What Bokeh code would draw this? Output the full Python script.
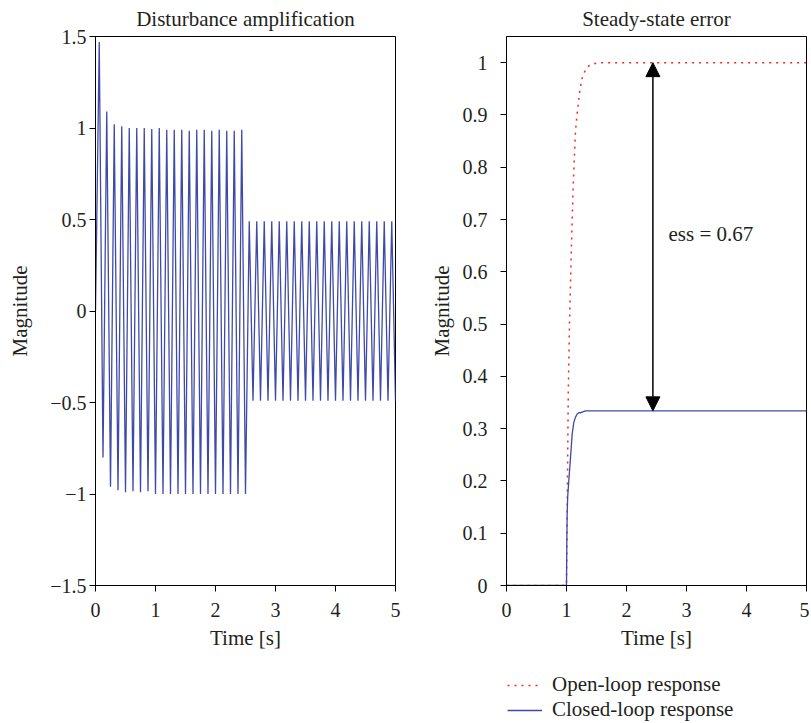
from bokeh.plotting import figure
from bokeh.layouts import row, column
from bokeh.models import Arrow, NormalHead, Label, Legend, LegendItem, FixedTicker
from bokeh.embed import file_html
from bokeh.resources import INLINE

# ---------------- data ----------------
dist_t = [0, 0.0625, 0.125, 0.1875, 0.25, 0.3125, 0.375, 0.4375, 0.5, 0.5625,
          0.625, 0.6875, 0.75, 0.8125, 0.875, 0.9375, 1.0, 1.0625, 1.125, 1.1875,
          1.25, 1.3125, 1.375, 1.4375, 1.5, 1.5625, 1.625, 1.6875, 1.75, 1.8125,
          1.875, 1.9375, 2.0, 2.0625, 2.125, 2.1875, 2.25, 2.3125, 2.375, 2.4375,
          2.5, 2.5625, 2.625, 2.6875, 2.75, 2.8125, 2.875, 2.9375, 3.0, 3.0625,
          3.125, 3.1875, 3.25, 3.3125, 3.375, 3.4375, 3.5, 3.5625, 3.625, 3.6875,
          3.75, 3.8125, 3.875, 3.9375, 4.0, 4.0625, 4.125, 4.1875, 4.25, 4.3125,
          4.375, 4.4375, 4.5, 4.5625, 4.625, 4.6875, 4.75, 4.8125, 4.875, 4.9375, 5.0]
dist_y = [0.0, 1.47, -0.80, 1.09, -0.96, 1.02, -0.98, 1.01, -0.99, 1.0,
          -0.985, 1.0, -0.99, 1.0, -0.985, 0.995, -1.0, 1.0, -1.0, 0.99,
          -1.0, 0.99, -1.0, 0.99, -1.0, 0.985, -1.0, 0.99, -1.0, 0.99,
          -1.0, 0.985, -1.0, 0.99, -1.0, 0.985, -1.0, 0.985, -1.0, 0.99,
          -1.0, 0.49, -0.49, 0.49, -0.49, 0.49, -0.49, 0.49, -0.49, 0.49,
          -0.49, 0.49, -0.49, 0.49, -0.49, 0.49, -0.49, 0.49, -0.49, 0.49,
          -0.49, 0.49, -0.49, 0.49, -0.49, 0.49, -0.49, 0.49, -0.49, 0.49,
          -0.49, 0.49, -0.49, 0.49, -0.49, 0.49, -0.49, 0.49, -0.49, 0.49, -0.49]

open_t = [0, 1.0, 1.01, 1.02, 1.03, 1.05, 1.08, 1.11, 1.15, 1.18, 1.22, 1.26,
          1.30, 1.35, 1.42, 1.5, 1.6, 5.0]
open_y = [0, 0, 0.13, 0.25, 0.37, 0.5, 0.64, 0.76, 0.87, 0.905, 0.945, 0.97,
          0.982, 0.992, 0.997, 0.999, 1.0, 1.0]

closed_t = [0, 1.0, 1.005, 1.011, 1.02, 1.038, 1.067, 1.095, 1.122, 1.15, 1.178,
            1.21, 1.233, 1.27, 1.32, 5.0]
closed_y = [0, 0, 0.08, 0.137, 0.17, 0.2, 0.245, 0.29, 0.312, 0.322, 0.328,
            0.331, 0.330, 0.332, 0.334, 0.334]

ess_x = 2.44
ess_low = 0.334
ess_high = 1.0
ess_label = "ess = 0.67"

titles = ["Disturbance amplification", "Steady-state error"]
legend_labels = ["Open-loop response", "Closed-loop response"]

left_yticks = [-1.5, -1, -0.5, 0, 0.5, 1, 1.5]
left_ylabels = ["\u22121.5", "\u22121", "\u22120.5", "0", "0.5", "1", "1.5"]
right_yticks = [0, 0.1, 0.2, 0.3, 0.4, 0.5, 0.6, 0.7, 0.8, 0.9, 1.0]
right_ylabels = ["0", "0.1", "0.2", "0.3", "0.4", "0.5", "0.6", "0.7", "0.8", "0.9", "1"]
xticks = [0, 1, 2, 3, 4, 5]

FONT = "Liberation Serif"
FS = "20px"
FSL = "21px"
TXT = "#231f20"
BLUE = "#3f4aa8"
RED = "#ee2a24"
OPEN_DASH = "2 5"


def style(p, ylab_standoff, label_standoff):
    p.grid.visible = False
    p.outline_line_color = "black"
    p.outline_line_width = 1
    p.title.align = "center"
    p.title.vertical_align = "top"
    p.title.text_font = FONT
    p.title.text_font_size = FSL
    p.title.text_font_style = "normal"
    p.title.text_color = TXT
    p.title.standoff = 8
    for ax in (p.xaxis[0], p.yaxis[0]):
        ax.axis_line_color = "black"
        ax.major_tick_line_color = "black"
        ax.major_tick_in = 0
        ax.major_tick_out = 6
        ax.minor_tick_line_color = None
        ax.major_label_text_font = FONT
        ax.major_label_text_font_size = FS
        ax.major_label_text_color = TXT
        ax.axis_label_text_font = FONT
        ax.axis_label_text_font_size = FSL
        ax.axis_label_text_font_style = "normal"
        ax.axis_label_text_color = TXT
    p.yaxis[0].major_label_standoff = label_standoff
    p.yaxis[0].axis_label_standoff = ylab_standoff
    p.xaxis[0].major_label_standoff = 11
    p.xaxis[0].axis_label_standoff = 6
    p.xaxis[0].ticker = FixedTicker(ticks=xticks)


# ---------------- left panel ----------------
p1 = figure(frame_width=300, frame_height=549, x_range=(0, 5), y_range=(-1.5, 1.5),
            title=titles[0], output_backend="svg",
            toolbar_location=None, min_border_left=95, min_border_right=25,
            min_border_top=36, min_border_bottom=80)
p1.line(dist_t, dist_y, line_color=BLUE, line_width=1.3)
style(p1, 15, 3)
p1.yaxis[0].ticker = FixedTicker(ticks=left_yticks)
p1.yaxis[0].major_label_overrides = dict(zip(left_yticks, left_ylabels))
p1.xaxis[0].axis_label = "Time [s]"
p1.yaxis[0].axis_label = "Magnitude"

# ---------------- right panel ----------------
p2 = figure(frame_width=300, frame_height=549, x_range=(0, 5), y_range=(0, 1.05),
            title=titles[1], output_backend="svg",
            toolbar_location=None, min_border_left=86, min_border_right=3,
            min_border_top=36, min_border_bottom=80)
p2.line(open_t, open_y, line_color=RED, line_width=1.5, line_dash=OPEN_DASH)
p2.line(closed_t, closed_y, line_color=BLUE, line_width=1.3)
style(p2, 6, 13)
p2.yaxis[0].ticker = FixedTicker(ticks=right_yticks)
p2.yaxis[0].major_label_overrides = dict(zip(right_yticks, right_ylabels))
p2.xaxis[0].axis_label = "Time [s]"
p2.yaxis[0].axis_label = "Magnitude"

p2.add_layout(Arrow(x_start=ess_x, y_start=ess_low, x_end=ess_x, y_end=ess_high,
                    line_color="black", line_width=1.5,
                    start=NormalHead(size=14, fill_color="black", line_color="black"),
                    end=NormalHead(size=14, fill_color="black", line_color="black")))
p2.add_layout(Label(x=2.7, y=0.673, text=ess_label, text_font=FONT,
                    text_font_size=FSL, text_color=TXT, text_baseline="middle"))

# ---------------- legend strip below the right panel ----------------
pl = figure(frame_width=300, frame_height=57, x_range=(0, 1), y_range=(0, 1),
            output_backend="svg", toolbar_location=None,
            x_axis_location=None, y_axis_location=None,
            min_border_left=506, min_border_right=0, min_border_top=0,
            min_border_bottom=0)
pl.outline_line_color = None
pl.grid.visible = False
nan = float("nan")
lo = pl.line([nan], [nan], line_color=RED, line_width=1.5, line_dash=OPEN_DASH)
lc = pl.line([nan], [nan], line_color=BLUE, line_width=1.3)
legend = Legend(items=[LegendItem(label=legend_labels[0], renderers=[lo]),
                       LegendItem(label=legend_labels[1], renderers=[lc])],
                location=(1, 0), orientation="vertical",
                border_line_alpha=0, background_fill_alpha=0,
                label_text_font=FONT, label_text_font_size=FSL, label_text_color=TXT,
                glyph_width=35, label_standoff=10, spacing=0, padding=0, margin=0)
pl.add_layout(legend, "center")

layout = column(row(p1, p2), pl)
open("out.html", "w").write(file_html(layout, INLINE))
